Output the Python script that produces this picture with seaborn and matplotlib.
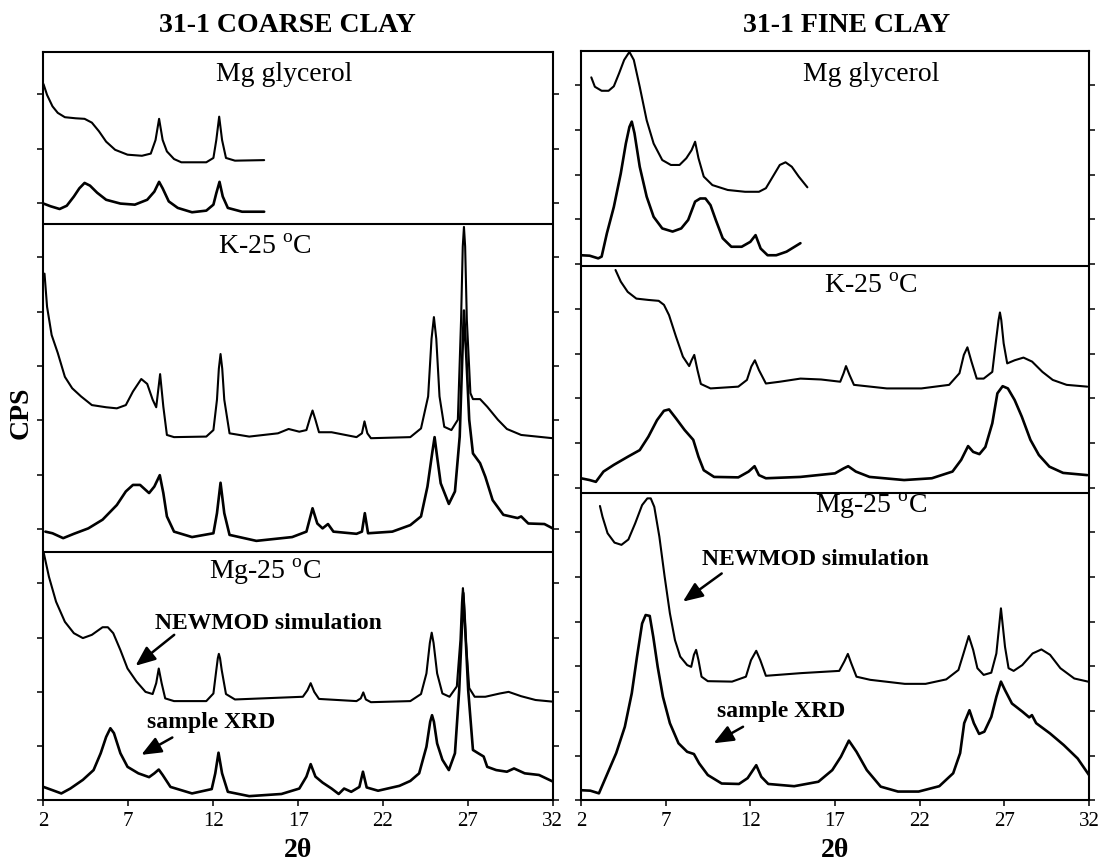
import matplotlib
matplotlib.use("Agg")
import matplotlib.pyplot as plt
import seaborn as sns

# ---------------- 31-1 coarse clay (left column) ----------------
# Intensities are in tick units (one tick step = one unit), patterns stacked.
coarse_gly_sim_x = [2.0, 2.21, 2.53, 2.84, 3.26, 3.90, 4.42, 4.85, 5.27, 5.69, 6.22, 6.95, 7.80, 8.32, 8.60,
                    8.81, 9.02, 9.27, 9.69, 10.12, 11.59, 12.01, 12.18, 12.35, 12.52, 12.75, 13.28, 15.0]
coarse_gly_sim_y = [13.19, 12.99, 12.78, 12.66, 12.58, 12.56, 12.55, 12.48, 12.32, 12.13, 11.98, 11.89, 11.87,
                    11.91, 12.16, 12.55, 12.16, 11.95, 11.81, 11.75, 11.75, 11.83, 12.16, 12.59, 12.16, 11.83,
                    11.78, 11.79]
coarse_gly_xrd_x = [2.0, 2.42, 2.95, 3.37, 3.79, 4.11, 4.42, 4.74, 5.16, 5.69, 6.53, 7.38, 8.11, 8.53, 8.81,
                    9.02, 9.38, 9.91, 10.75, 11.59, 12.01, 12.18, 12.37, 12.56, 12.86, 13.70, 15.0]
coarse_gly_xrd_y = [10.99, 10.94, 10.89, 10.95, 11.12, 11.27, 11.37, 11.32, 11.19, 11.06, 10.99, 10.97, 11.06,
                    11.21, 11.39, 11.27, 11.03, 10.91, 10.83, 10.86, 10.97, 11.18, 11.39, 11.12, 10.91, 10.84,
                    10.84]

coarse_k_sim_x = [2.06, 2.21, 2.48, 2.84, 3.26, 3.69, 4.21, 4.85, 5.69, 6.32, 6.85, 7.27, 7.76, 8.11, 8.43,
                  8.64, 8.87, 9.06, 9.27, 9.69, 11.59, 12.01, 12.22, 12.33, 12.43, 12.53, 12.65, 12.96, 14.12,
                  15.81, 16.44, 17.07, 17.49, 17.70, 17.85, 18.02, 18.23, 18.97, 20.44, 20.76, 20.91, 21.08,
                  21.29, 23.61, 24.24, 24.66, 24.86, 25.0, 25.14, 25.33, 25.61, 26.03, 26.41, 26.60, 26.70,
                  26.77, 26.84, 26.94, 27.15, 27.30, 27.72, 28.14, 28.77, 29.30, 30.14, 32.0]
coarse_k_sim_y = [9.70, 9.09, 8.57, 8.24, 7.80, 7.59, 7.44, 7.28, 7.24, 7.22, 7.28, 7.53, 7.76, 7.67, 7.38,
                  7.24, 7.85, 7.25, 6.73, 6.69, 6.70, 6.82, 7.38, 7.95, 8.22, 7.95, 7.38, 6.76, 6.70, 6.76,
                  6.84, 6.79, 6.82, 7.04, 7.18, 7.01, 6.78, 6.78, 6.69, 6.76, 6.98, 6.76, 6.67, 6.69, 6.85,
                  7.44, 8.50, 8.90, 8.50, 7.44, 6.88, 6.82, 7.01, 8.85, 10.20, 10.56, 10.20, 8.85, 7.50, 7.39,
                  7.39, 7.25, 7.01, 6.84, 6.73, 6.67]
coarse_k_xrd_x = [2.11, 2.53, 3.16, 3.79, 4.64, 5.48, 6.32, 6.85, 7.27, 7.69, 8.22, 8.53, 8.85, 9.06, 9.27,
                  9.69, 10.75, 12.01, 12.22, 12.43, 12.65, 12.96, 14.54, 16.65, 17.49, 17.85, 18.13, 18.44,
                  18.76, 19.08, 20.44, 20.76, 20.93, 21.12, 22.55, 23.61, 24.24, 24.62, 24.90, 25.04, 25.18,
                  25.40, 25.88, 26.24, 26.52, 26.68, 26.77, 26.90, 27.08, 27.30, 27.72, 28.03, 28.46, 29.09,
                  29.93, 30.14, 30.56, 31.51, 32.0]
coarse_k_xrd_y = [4.95, 4.92, 4.83, 4.91, 5.01, 5.17, 5.44, 5.69, 5.81, 5.81, 5.66, 5.78, 5.99, 5.66, 5.23,
                  4.95, 4.85, 4.92, 5.29, 5.85, 5.29, 4.89, 4.78, 4.85, 4.95, 5.38, 5.10, 5.01, 5.09, 4.95,
                  4.91, 4.95, 5.29, 4.92, 4.95, 5.07, 5.23, 5.78, 6.40, 6.69, 6.35, 5.84, 5.46, 5.69, 6.70,
                  8.24, 9.02, 8.24, 7.01, 6.39, 6.21, 5.96, 5.53, 5.26, 5.20, 5.23, 5.10, 5.09, 5.01]

coarse_mg_sim_x = [2.0, 2.32, 2.74, 3.26, 3.79, 4.32, 4.85, 5.48, 5.79, 6.11, 6.53, 6.95, 7.48, 8.01, 8.43,
                   8.64, 8.79, 8.96, 9.17, 9.69, 11.59, 12.01, 12.18, 12.27, 12.33, 12.40, 12.50, 12.75, 13.28,
                   17.28, 17.55, 17.74, 17.95, 18.23, 20.44, 20.69, 20.84, 20.99, 21.29, 23.61, 24.24, 24.56,
                   24.76, 24.87, 24.98, 25.19, 25.50, 25.92, 26.35, 26.56, 26.65, 26.71, 26.77, 26.88, 27.08,
                   27.40, 28.03, 28.88, 29.40, 30.14, 30.99, 32.0]
coarse_mg_sim_y = [4.58, 4.12, 3.66, 3.29, 3.08, 2.99, 3.05, 3.19, 3.19, 3.08, 2.77, 2.43, 2.19, 2.00, 1.96,
                   2.16, 2.43, 2.16, 1.88, 1.83, 1.83, 1.97, 2.40, 2.62, 2.70, 2.62, 2.40, 1.96, 1.86, 1.91,
                   2.03, 2.16, 2.00, 1.87, 1.83, 1.88, 1.99, 1.86, 1.81, 1.83, 1.96, 2.34, 2.90, 3.09, 2.90,
                   2.34, 1.97, 1.91, 2.10, 2.96, 3.65, 3.91, 3.65, 2.96, 2.07, 1.91, 1.91, 1.97, 2.00, 1.92,
                   1.85, 1.82]
coarse_mg_xrd_x = [2.0, 2.53, 3.05, 3.58, 4.32, 4.95, 5.37, 5.69, 5.94, 6.15, 6.53, 6.95, 7.59, 8.22, 8.53,
                   8.79, 9.02, 9.48, 10.75, 11.91, 12.12, 12.31, 12.52, 12.86, 14.12, 16.02, 17.07, 17.49,
                   17.74, 18.02, 18.44, 18.97, 19.39, 19.71, 20.13, 20.61, 20.82, 21.04, 21.71, 22.97, 23.61,
                   24.13, 24.56, 24.78, 24.89, 25.0, 25.19, 25.50, 25.88, 26.24, 26.49, 26.66, 26.73, 26.83,
                   27.02, 27.30, 27.61, 27.93, 28.14, 28.67, 29.30, 29.72, 30.35, 31.19, 32.0]
coarse_mg_xrd_y = [0.25, 0.19, 0.13, 0.22, 0.38, 0.56, 0.87, 1.17, 1.33, 1.24, 0.87, 0.62, 0.50, 0.43, 0.50,
                   0.57, 0.47, 0.25, 0.13, 0.21, 0.50, 0.88, 0.50, 0.16, 0.08, 0.12, 0.22, 0.44, 0.67, 0.44,
                   0.33, 0.22, 0.12, 0.22, 0.16, 0.25, 0.53, 0.24, 0.18, 0.27, 0.36, 0.50, 0.99, 1.45, 1.57,
                   1.45, 1.05, 0.75, 0.56, 0.87, 2.03, 3.26, 3.82, 3.26, 2.03, 0.93, 0.87, 0.81, 0.62, 0.56,
                   0.53, 0.59, 0.50, 0.47, 0.35]

# ---------------- 31-1 fine clay (right column) ----------------
fine_gly_sim_x = [2.61, 2.82, 3.22, 3.63, 3.94, 4.25, 4.55, 4.86, 5.12, 5.47, 5.88, 6.29, 6.80, 7.31, 7.82,
                  8.22, 8.53, 8.74, 8.94, 9.25, 9.76, 10.67, 11.69, 12.51, 12.92, 13.33, 13.74, 14.08, 14.45,
                  14.86, 15.37]
fine_gly_sim_y = [16.18, 15.97, 15.88, 15.88, 15.98, 16.27, 16.57, 16.75, 16.57, 15.97, 15.22, 14.70, 14.33,
                  14.22, 14.22, 14.37, 14.55, 14.74, 14.37, 13.96, 13.77, 13.66, 13.62, 13.62, 13.70, 13.96,
                  14.22, 14.28, 14.18, 13.96, 13.72]
fine_gly_xrd_x = [2.0, 2.51, 3.02, 3.22, 3.53, 3.94, 4.35, 4.65, 4.86, 5.0, 5.16, 5.47, 5.88, 6.29, 6.80,
                  7.41, 7.92, 8.33, 8.74, 9.04, 9.35, 9.65, 9.96, 10.37, 10.88, 11.49, 12.0, 12.31, 12.61,
                  13.02, 13.53, 14.14, 14.96]
fine_gly_xrd_y = [12.20, 12.19, 12.13, 12.17, 12.69, 13.28, 14.03, 14.70, 15.07, 15.19, 14.93, 14.18, 13.51,
                  13.06, 12.80, 12.73, 12.80, 12.99, 13.40, 13.47, 13.47, 13.32, 12.99, 12.58, 12.39, 12.39,
                  12.50, 12.65, 12.35, 12.20, 12.20, 12.28, 12.47]

fine_k_sim_x = [4.04, 4.35, 4.76, 5.27, 5.98, 6.59, 6.90, 7.20, 7.61, 8.02, 8.39, 8.53, 8.69, 8.88, 9.08,
                9.65, 11.29, 11.80, 12.06, 12.27, 12.51, 12.92, 13.74, 14.96, 16.18, 17.31, 17.51, 17.65,
                17.86, 18.12, 20.06, 22.10, 23.74, 24.35, 24.61, 24.82, 25.06, 25.37, 25.78, 26.29, 26.49,
                26.66, 26.74, 26.82, 26.96, 27.17, 27.61, 28.13, 28.64, 29.25, 29.86, 30.68, 31.90]
fine_k_sim_y = [11.87, 11.61, 11.38, 11.23, 11.20, 11.18, 11.09, 10.86, 10.38, 9.93, 9.72, 9.85, 9.97, 9.63,
                9.32, 9.22, 9.26, 9.41, 9.71, 9.85, 9.63, 9.33, 9.37, 9.44, 9.42, 9.37, 9.56, 9.72, 9.52,
                9.30, 9.22, 9.22, 9.30, 9.56, 9.97, 10.14, 9.82, 9.44, 9.44, 9.59, 10.23, 10.75, 10.92,
                10.75, 10.23, 9.78, 9.85, 9.91, 9.82, 9.59, 9.41, 9.30, 9.26]
fine_k_xrd_x = [2.0, 2.51, 2.88, 3.33, 3.94, 4.76, 5.47, 5.98, 6.49, 6.90, 7.20, 7.61, 8.12, 8.63, 8.94,
                9.25, 9.86, 11.29, 11.90, 12.25, 12.51, 12.92, 14.96, 17.0, 17.51, 17.78, 18.23, 19.04,
                21.08, 22.72, 23.94, 24.45, 24.86, 25.16, 25.53, 25.88, 26.29, 26.59, 26.90, 27.21, 27.61,
                28.03, 28.54, 29.04, 29.66, 30.47, 31.90]
fine_k_xrd_y = [7.21, 7.17, 7.13, 7.36, 7.51, 7.69, 7.84, 8.14, 8.51, 8.72, 8.75, 8.55, 8.29, 8.07, 7.69,
                7.39, 7.24, 7.23, 7.36, 7.48, 7.28, 7.21, 7.24, 7.32, 7.43, 7.48, 7.36, 7.24, 7.17, 7.21,
                7.36, 7.62, 7.93, 7.80, 7.75, 7.91, 8.44, 9.11, 9.27, 9.22, 8.96, 8.59, 8.07, 7.73, 7.47,
                7.33, 7.28]

fine_mg_sim_x = [3.12, 3.27, 3.57, 3.98, 4.39, 4.80, 5.20, 5.61, 5.92, 6.12, 6.33, 6.63, 6.94, 7.25, 7.55,
                 7.86, 8.27, 8.51, 8.67, 8.80, 8.94, 9.12, 9.49, 10.92, 11.74, 12.04, 12.35, 12.59, 12.92,
                 15.0, 17.25, 17.55, 17.76, 17.96, 18.27, 19.08, 21.12, 22.35, 23.57, 24.29, 24.59, 24.90,
                 25.16, 25.41, 25.78, 26.23, 26.53, 26.80, 27.04, 27.25, 27.55, 28.06, 28.67, 29.19, 29.70,
                 30.31, 31.13, 31.94]
fine_mg_sim_y = [6.59, 6.35, 5.98, 5.77, 5.72, 5.84, 6.20, 6.61, 6.76, 6.76, 6.57, 5.90, 5.01, 4.19, 3.59,
                 3.22, 3.03, 2.99, 3.26, 3.37, 3.14, 2.77, 2.67, 2.66, 2.77, 3.14, 3.35, 3.14, 2.79, 2.85,
                 2.90, 3.11, 3.28, 3.07, 2.77, 2.70, 2.61, 2.61, 2.71, 2.92, 3.29, 3.68, 3.37, 2.96, 2.81,
                 2.86, 3.29, 4.30, 3.44, 2.96, 2.90, 3.03, 3.29, 3.38, 3.26, 2.96, 2.73, 2.66]
fine_mg_xrd_x = [2.0, 2.55, 3.06, 3.57, 4.08, 4.59, 5.0, 5.31, 5.61, 5.82, 6.06, 6.27, 6.53, 6.84, 7.25,
                 7.76, 8.27, 8.67, 8.98, 9.49, 10.31, 11.33, 11.84, 12.35, 12.65, 13.06, 14.59, 16.02, 16.84,
                 17.35, 17.82, 18.27, 18.88, 19.70, 20.72, 21.94, 23.16, 23.98, 24.39, 24.63, 24.94, 25.20,
                 25.51, 25.82, 26.23, 26.53, 26.80, 27.04, 27.45, 28.06, 28.47, 28.63, 28.88, 29.70, 30.51,
                 31.33, 32.0]
fine_mg_xrd_y = [0.23, 0.22, 0.16, 0.61, 1.06, 1.65, 2.40, 3.22, 3.96, 4.15, 4.13, 3.66, 2.99, 2.32, 1.73,
                 1.28, 1.09, 1.04, 0.83, 0.57, 0.38, 0.37, 0.50, 0.79, 0.53, 0.37, 0.32, 0.42, 0.68, 0.98,
                 1.34, 1.09, 0.68, 0.31, 0.20, 0.20, 0.32, 0.61, 1.06, 1.73, 2.02, 1.73, 1.49, 1.54, 1.87,
                 2.32, 2.66, 2.47, 2.17, 1.99, 1.86, 1.91, 1.73, 1.50, 1.24, 0.94, 0.57]

# ---------------- labels ----------------
column_titles = ["31-1 COARSE CLAY", "31-1 FINE CLAY"]
panel_names = ["Mg glycerol", "K-25 $^{\\mathrm{o}}$C", "Mg-25 $^{\\mathrm{o}}$C"]
x_ticks = [2, 7, 12, 17, 22, 27, 32]
x_label = "2\u03b8"
y_label = "CPS"
sim_note = "NEWMOD simulation"
xrd_note = "sample XRD"

sns.set_theme(style="ticks")
plt.rcParams["font.family"] = ["Liberation Serif", "DejaVu Serif"]
plt.rcParams["mathtext.fontset"] = "custom"
plt.rcParams["mathtext.rm"] = "Liberation Serif"
plt.rcParams["text.color"] = "black"
plt.rcParams["axes.labelcolor"] = "black"
plt.rcParams["xtick.color"] = "black"
plt.rcParams["ytick.color"] = "black"

fig = plt.figure(figsize=(11.02, 8.61), dpi=100)
ax_l = fig.add_axes([0.03947, 0.07027, 0.4621, 0.8693])
ax_r = fig.add_axes([0.5272, 0.07027, 0.4610, 0.8705])


def trace(ax, x, y, lw):
    sns.lineplot(x=x, y=y, ax=ax, color="black", linewidth=lw, estimator=None, sort=False)


def style_axes(ax, top, n_ticks, separators):
    ax.set_xlim(2, 32)
    ax.set_ylim(0, top)
    ax.set_xticks(x_ticks)
    ax.set_xticklabels([str(t) for t in x_ticks])
    ax.set_yticks(range(n_ticks))
    ax.tick_params(axis="y", left=True, right=True, labelleft=False, direction="out",
                   length=4.5, width=1.1, color="black")
    ax.tick_params(axis="x", bottom=True, top=False, direction="out", length=4.5, width=1.1,
                   labelsize=15, pad=4, color="black", labelcolor="black")
    for s in ax.spines.values():
        s.set_linewidth(1.5)
        s.set_color("black")
    for h in separators:
        ax.axhline(h, color="black", linewidth=1.5)
    ax.set_xlabel(x_label, fontsize=20, fontweight="bold", labelpad=5, color="black")
    ax.set_ylabel("")


# coarse clay traces
trace(ax_l, coarse_gly_sim_x, coarse_gly_sim_y, 1.5)
trace(ax_l, coarse_gly_xrd_x, coarse_gly_xrd_y, 1.9)
trace(ax_l, coarse_k_sim_x, coarse_k_sim_y, 1.5)
trace(ax_l, coarse_k_xrd_x, coarse_k_xrd_y, 1.9)
trace(ax_l, coarse_mg_sim_x, coarse_mg_sim_y, 1.5)
trace(ax_l, coarse_mg_xrd_x, coarse_mg_xrd_y, 1.9)
style_axes(ax_l, 13.78, 14, [10.61, 4.58])

# fine clay traces
trace(ax_r, fine_gly_sim_x, fine_gly_sim_y, 1.5)
trace(ax_r, fine_gly_xrd_x, fine_gly_xrd_y, 1.9)
trace(ax_r, fine_k_sim_x, fine_k_sim_y, 1.5)
trace(ax_r, fine_k_xrd_x, fine_k_xrd_y, 1.9)
trace(ax_r, fine_mg_sim_x, fine_mg_sim_y, 1.5)
trace(ax_r, fine_mg_xrd_x, fine_mg_xrd_y, 1.9)
style_axes(ax_r, 16.77, 17, [11.96, 6.89])

# panel names
for ax, xs, ys in [(ax_l, [16.2, 15.05, 15.05], [13.36, 10.19, 4.21]),
                   (ax_r, [19.13, 19.13, 19.13], [16.25, 11.51, 6.59])]:
    for name, px, py in zip(panel_names, xs, ys):
        ax.text(px, py, name, fontsize=20, ha="center", va="center", color="black")

# annotations with arrows
arrow_props = dict(arrowstyle="-|>,head_length=0.6,head_width=0.25", color="black", lw=1.8,
                   mutation_scale=20, shrinkA=0, shrinkB=0)
for ax, sim_txt, sim_tail, sim_head, xrd_txt, xrd_tail, xrd_head in [
        (ax_l, (15.23, 3.26), (9.70, 3.05), (7.42, 2.48), (11.85, 1.43), (9.59, 1.16), (7.76, 0.84)),
        (ax_r, (15.82, 5.40), (10.31, 5.08), (8.02, 4.45), (13.84, 1.99), (11.57, 1.65), (9.83, 1.28))]:
    ax.text(*sim_txt, sim_note, fontsize=17, fontweight="bold", ha="center", va="center")
    ax.text(*xrd_txt, xrd_note, fontsize=17, fontweight="bold", ha="center", va="center")
    ax.annotate("", xy=sim_head, xytext=sim_tail, arrowprops=arrow_props)
    ax.annotate("", xy=xrd_head, xytext=xrd_tail, arrowprops=arrow_props)

# column titles and shared y label
fig.text(287.7 / 1102, 1 - 25.8 / 861, column_titles[0], fontsize=20, fontweight="bold",
         ha="center", va="center")
fig.text(847 / 1102, 1 - 25 / 861, column_titles[1], fontsize=20, fontweight="bold",
         ha="center", va="center")
fig.text(21 / 1102, 1 - 413 / 861, y_label, fontsize=20, fontweight="bold", rotation=90,
         ha="center", va="center")

fig.savefig("out.png", dpi=100, facecolor="white")
